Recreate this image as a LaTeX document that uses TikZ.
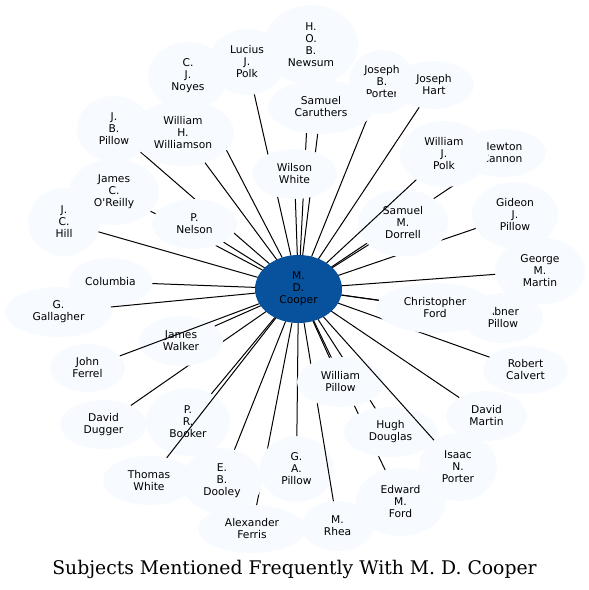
\documentclass[tikz,border=0pt]{standalone}
\usepackage{fontspec}
\newfontfamily\nodefont{DejaVu Sans}
\newfontfamily\titlefont{DejaVu Serif}
\usetikzlibrary{shapes.geometric}
\definecolor{leaffill}{HTML}{F7FBFF}
\definecolor{hubfill}{HTML}{08519C}
\tikzset{
  leaf/.style={ellipse, fill=leaffill, draw=none, inner sep=0pt, outer sep=0pt,
    align=center, text=black, font=\nodefont\fontsize{10.7}{12}\selectfont},
  hub/.style={leaf, fill=hubfill},
  edge/.style={draw=black, line width=1pt},
}
\newcommand\leafnode[6]{%
  \node[leaf, minimum width={2*#4pt}, minimum height={2*#5pt}] (#1) at (#2,#3) {#6};
  \draw[edge] (c) -- (#1);
}
\begin{document}
\begin{tikzpicture}[x=1pt,y=-1pt]
\useasboundingbox (0,0) rectangle (589,590);
\node[hub, minimum width=87pt, minimum height=68pt] (c) at (298.5,289) {M.\\D.\\Cooper};
\leafnode{newsum}{311}{45}{47}{40}{H.\\O.\\B.\\Newsum}
\leafnode{lpolk}{247}{62}{38}{33}{Lucius\\J.\\Polk}
\leafnode{noyes}{188}{76}{40}{34}{C.\\J.\\Noyes}
\leafnode{jbporter}{382}{82}{33}{32}{Joseph\\B.\\Porter}
\leafnode{hart}{434}{85}{40}{24}{Joseph\\Hart}
\leafnode{caruthers}{321}{107}{53}{27}{Samuel\\Caruthers}
\leafnode{jbpillow}{114}{129}{37}{33}{J.\\B.\\Pillow}
\leafnode{williamson}{183}{133}{51}{33}{William\\H.\\Williamson}
\leafnode{wwhite}{294.5}{174}{42.5}{25}{Wilson\\White}
\leafnode{cannon}{502}{153}{44}{24}{Newton\\Cannon}
\leafnode{gideon}{515}{215}{43}{33}{Gideon\\J.\\Pillow}
\leafnode{dorrell}{403}{223}{45}{33.5}{Samuel\\M.\\Dorrell}
\leafnode{wjpolk}{444}{154}{44}{33}{William\\J.\\Polk}
\leafnode{oreilly}{114}{192}{45}{33}{James\\C.\\O'Reilly}
\leafnode{hill}{64}{222}{36}{34}{J.\\C.\\Hill}
\leafnode{nelson}{194.5}{224}{42.5}{25}{P.\\Nelson}
\leafnode{gmartin}{540}{271}{45}{33.5}{George\\M.\\Martin}
\leafnode{columbia}{110.5}{282}{42}{24}{Columbia}
\leafnode{gallagher}{58.5}{312}{53.5}{25}{G.\\Gallagher}
\leafnode{calvert}{525.5}{370}{42.5}{24}{Robert\\Calvert}
\leafnode{abner}{503}{318}{40}{25}{Abner\\Pillow}
\leafnode{cford}{435}{308}{59}{25}{Christopher\\Ford}
\leafnode{dugger}{103.5}{424.5}{43.5}{24.5}{David\\Dugger}
\leafnode{walker}{181}{341}{42}{25}{James\\Walker}
\leafnode{ferrel}{87.5}{368}{37.5}{24}{John\\Ferrel}
\leafnode{booker}{188}{422}{42}{34}{P.\\R.\\Booker}
\leafnode{twhite}{149}{480.5}{46}{24.5}{Thomas\\White}
\leafnode{ferris}{252}{529}{54}{24}{Alexander\\Ferris}
\leafnode{dooley}{222}{481}{40}{33}{E.\\B.\\Dooley}
\leafnode{gapillow}{296.5}{469}{37}{33}{G.\\A.\\Pillow}
\leafnode{rhea}{337.5}{526}{36}{25}{M.\\Rhea}
\leafnode{eford}{400.5}{502}{45}{34}{Edward\\M.\\Ford}
\leafnode{douglas}{390.5}{432}{47}{25}{Hugh\\Douglas}
\leafnode{wpillow}{340.5}{382}{43.5}{25}{William\\Pillow}
\leafnode{dmartin}{486.5}{416}{40.5}{25}{David\\Martin}
\leafnode{iporter}{458}{467}{39}{34}{Isaac\\N.\\Porter}
\node[anchor=base, inner sep=0pt, font=\titlefont\fontsize{18.8}{22}\selectfont] (title) at (294.5,574) {Subjects Mentioned Frequently With M. D. Cooper};
\end{tikzpicture}
\end{document}
